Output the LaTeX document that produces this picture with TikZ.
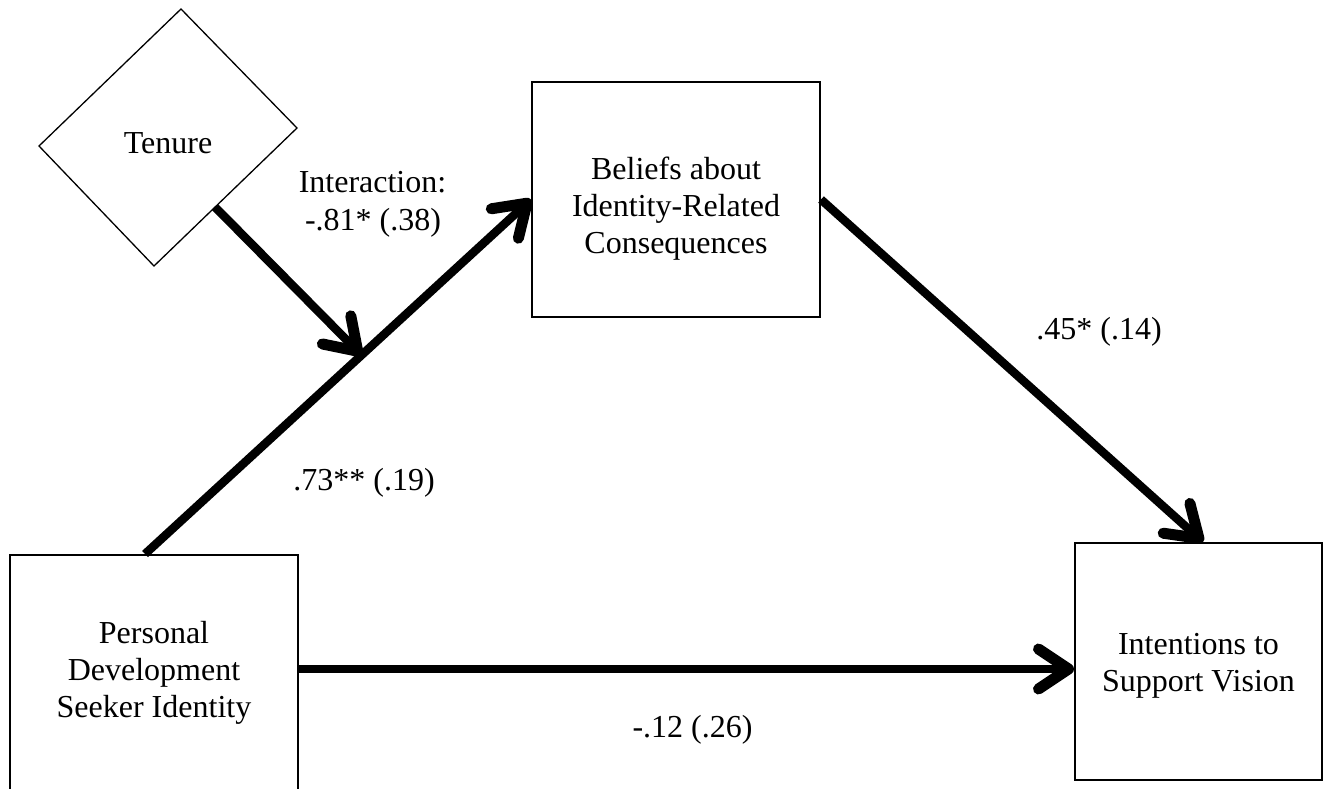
\documentclass[tikz,border=0pt]{standalone}
\usepackage{fontspec}
\setmainfont{Liberation Serif}
\usetikzlibrary{arrows.meta,calc}

\begin{document}
\begin{tikzpicture}[x=1pt,y=-1pt,
  box/.style={draw, line width=2pt, inner sep=0pt},
  txt/.style={align=center, inner sep=0pt, font=\fontsize{32}{37}\selectfont},
  coef/.style={anchor=base, inner sep=0pt, font=\fontsize{32}{37}\selectfont},
  effect/.style={line width=8.5pt,
    -{Straight Barb[length=30pt,width=40pt,line width=11pt,line cap=round,line join=round]}}]

\useasboundingbox (0,0) rectangle (1323,789);
\clip (0,0) rectangle (1323,789);

% moderator: Tenure
\coordinate (dT) at (181,9);
\coordinate (dR) at (297,128);
\coordinate (dB) at (154,266);
\coordinate (dL) at (39,146);
\draw[line width=1.3pt] (dT) -- (dR) -- (dB) -- (dL) -- cycle;
\node[txt] (tenure) at (168,143.4) {Tenure};

% constructs
\node[box, minimum width=288pt, minimum height=235pt] (beliefs) at (676,199.5) {};
\node[txt] (beliefstext) at (676,209) {Beliefs about\\Identity-Related\\Consequences};

\node[box, minimum width=288pt, minimum height=237pt] (personal) at (154,673.5) {};
\node[txt] (personaltext) at (154,673) {Personal\\Development\\Seeker Identity};

\node[box, minimum width=247pt, minimum height=237pt] (intentions) at (1198.5,661.5) {};
\node[txt] (intentionstext) at (1198.5,666) {Intentions to\\Support Vision};

% paths
\coordinate (pstart) at ([xshift=-9pt]personal.north);
\draw[effect] (pstart) -- (beliefs.west) coordinate[pos=0.561] (joint);
\draw[effect] ($(dB)!0.427!(dR)$) -- (joint);
\draw[effect] (beliefs.east) -- ([xshift=4.5pt]intentions.north);
\coordinate (hstart) at ([yshift=4.5pt]personal.east);
\draw[effect] (hstart) -- (intentions.west |- hstart);

% coefficients
\node[coef] (intlabel) at (372.5,193) {Interaction:};
\node[coef] (intcoef) at (373,230) {-.81* (.38)};
\node[coef] (acoef) at (364,490) {.73** (.19)};
\node[coef] (bcoef) at (1099,339) {.45* (.14)};
\node[coef] (ccoef) at (692.5,737) {-.12 (.26)};
\end{tikzpicture}
\end{document}
